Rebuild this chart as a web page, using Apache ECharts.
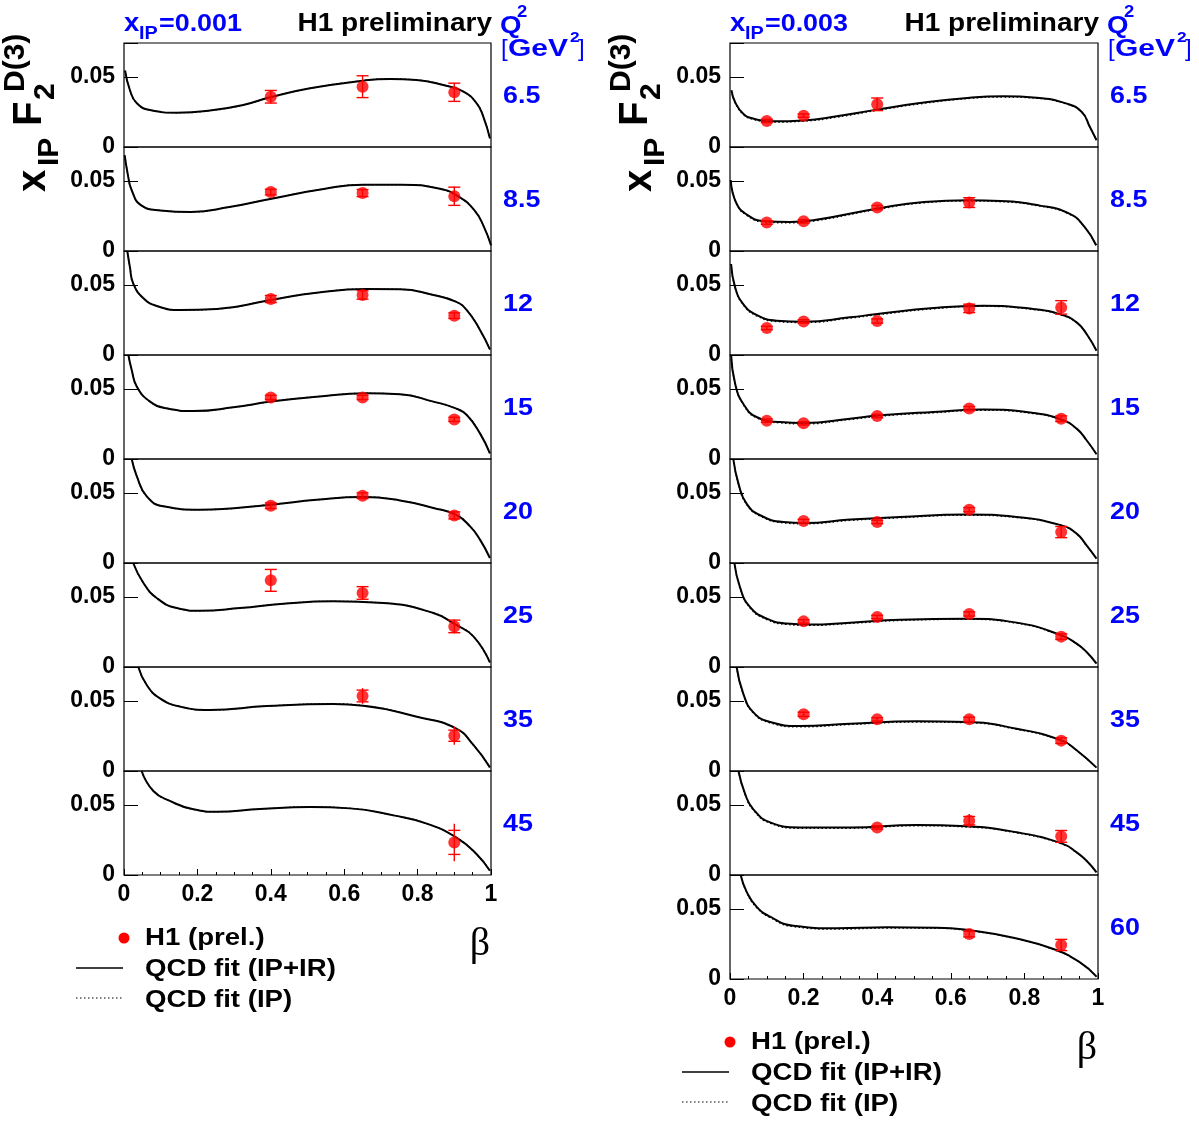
<!DOCTYPE html>
<html><head><meta charset="utf-8">
<script src="https://cdn.jsdelivr.net/npm/echarts@6/dist/echarts.min.js"></script>
<style>html,body{margin:0;padding:0;background:#fff}#c{width:1199px;height:1123px}</style>
</head><body><div id="c"></div>
<script>
// ---------------- data ----------------
const betaLeft = [0.4, 0.65, 0.9];
const betaRight = [0.1, 0.2, 0.4, 0.65, 0.9];
const q2Left = ['6.5', '8.5', '12', '15', '20', '25', '35', '45'];
const q2Right = ['6.5', '8.5', '12', '15', '20', '25', '35', '45', '60'];
const xIPLabels = ['0.001', '0.003'];
const yTickLabels = [0, 0.05];

const h1Left = [
  [0.0359, 0.0431, 0.0391],
  [0.0421, 0.0414, 0.0391],
  [0.0400, 0.0429, 0.0281],
  [0.0440, 0.0440, 0.0283],
  [0.0409, 0.0481, 0.0340],
  [0.0619, 0.0529, 0.0290],
  [null, 0.0536, 0.0252],
  [null, null, 0.0233]
];
const statLeft = [
  [0.0045, 0.0078, 0.0065],
  [0.0020, 0.0025, 0.0065],
  [0.0025, 0.0030, 0.0020],
  [0.0015, 0.0015, 0.0015],
  [0.0020, 0.0020, 0.0025],
  [0.0078, 0.0045, 0.0045],
  [null, 0.0042, 0.0040],
  [null, null, 0.0086]
];
const totLeft = [
  [0.0048, 0.0080, 0.0068],
  [0.0022, 0.0028, 0.0069],
  [0.0028, 0.0033, 0.0022],
  [0.0018, 0.0018, 0.0018],
  [0.0022, 0.0022, 0.0030],
  [0.0080, 0.0048, 0.0050],
  [null, 0.0056, 0.0065],
  [null, null, 0.0134]
];
const h1Right = [
  [0.0186, 0.0224, 0.0305, null, null],
  [0.0203, 0.0212, 0.0310, 0.0346, null],
  [0.0193, 0.0240, 0.0243, 0.0333, 0.0340],
  [0.0274, 0.0255, 0.0307, 0.0360, 0.0288],
  [null, 0.0300, 0.0293, 0.0381, 0.0221],
  [null, 0.0326, 0.0357, 0.0379, 0.0217],
  [null, 0.0405, 0.0369, 0.0369, 0.0217],
  [null, null, 0.0340, 0.0388, 0.0276],
  [null, null, null, 0.0321, 0.0243]
];
const statRight = [
  [0.0012, 0.0012, 0.0045, null, null],
  [0.0012, 0.0012, 0.0015, 0.0035, null],
  [0.0012, 0.0012, 0.0015, 0.0030, 0.0048],
  [0.0012, 0.0012, 0.0012, 0.0015, 0.0020],
  [null, 0.0012, 0.0012, 0.0015, 0.0040],
  [null, 0.0012, 0.0012, 0.0015, 0.0020],
  [null, 0.0015, 0.0012, 0.0015, 0.0020],
  [null, null, 0.0012, 0.0030, 0.0042],
  [null, null, null, 0.0020, 0.0040]
];
const totRight = [
  [0.0014, 0.0014, 0.0048, null, null],
  [0.0014, 0.0014, 0.0018, 0.0038, null],
  [0.0014, 0.0014, 0.0018, 0.0040, 0.0050],
  [0.0014, 0.0014, 0.0014, 0.0018, 0.0022],
  [null, 0.0014, 0.0014, 0.0018, 0.0042],
  [null, 0.0014, 0.0014, 0.0018, 0.0022],
  [null, 0.0018, 0.0014, 0.0018, 0.0022],
  [null, null, 0.0014, 0.0048, 0.0045],
  [null, null, null, 0.0022, 0.0042]
];

// QCD fit (IP+IR), [beta, value]
const fitLeft = [
  [[0.003,0.0545],[0.016,0.0407],[0.035,0.0312],[0.071,0.0264],[0.144,0.0245],[0.234,0.0260],[0.325,0.0300],[0.398,0.0355],[0.507,0.0419],[0.652,0.0474],[0.725,0.0486],[0.797,0.0479],[0.870,0.0443],[0.925,0.0395],[0.961,0.0312],[0.979,0.0217],[0.997,0.0062]],
  [[0.002,0.0684],[0.010,0.0553],[0.021,0.0434],[0.047,0.0326],[0.099,0.0290],[0.183,0.0279],[0.287,0.0314],[0.402,0.0374],[0.548,0.0445],[0.652,0.0474],[0.757,0.0474],[0.861,0.0445],[0.913,0.0386],[0.955,0.0290],[0.981,0.0171],[1.000,0.0041]],
  [[0.009,0.0743],[0.016,0.0630],[0.025,0.0512],[0.053,0.0405],[0.089,0.0350],[0.153,0.0321],[0.253,0.0329],[0.400,0.0393],[0.525,0.0445],[0.661,0.0471],[0.752,0.0469],[0.843,0.0429],[0.904,0.0381],[0.934,0.0321],[0.970,0.0179],[0.997,0.0040]],
  [[0.012,0.0743],[0.021,0.0636],[0.035,0.0517],[0.071,0.0410],[0.116,0.0362],[0.189,0.0343],[0.298,0.0369],[0.400,0.0410],[0.525,0.0445],[0.661,0.0469],[0.752,0.0462],[0.843,0.0410],[0.904,0.0362],[0.934,0.0314],[0.970,0.0183],[0.997,0.0040]],
  [[0.021,0.0743],[0.035,0.0619],[0.062,0.0476],[0.107,0.0405],[0.207,0.0381],[0.400,0.0417],[0.525,0.0452],[0.652,0.0471],[0.752,0.0447],[0.843,0.0393],[0.904,0.0345],[0.943,0.0262],[0.970,0.0167],[0.997,0.0036]],
  [[0.025,0.0743],[0.053,0.0600],[0.089,0.0493],[0.144,0.0421],[0.207,0.0402],[0.316,0.0421],[0.434,0.0452],[0.570,0.0469],[0.707,0.0457],[0.843,0.0386],[0.904,0.0302],[0.952,0.0219],[0.997,0.0033]],
  [[0.039,0.0743],[0.062,0.0614],[0.098,0.0519],[0.153,0.0460],[0.234,0.0436],[0.389,0.0464],[0.570,0.0479],[0.652,0.0467],[0.798,0.0388],[0.904,0.0305],[0.952,0.0186],[0.997,0.0026]],
  [[0.048,0.0743],[0.080,0.0600],[0.125,0.0529],[0.189,0.0469],[0.253,0.0452],[0.371,0.0471],[0.507,0.0486],[0.616,0.0476],[0.734,0.0426],[0.825,0.0367],[0.906,0.0267],[0.961,0.0148],[0.997,0.0030]]
];
// QCD fit (IP) coincides with the IP+IR curve in the x_IP=0.001 column
const fitIPLeft = fitLeft;

const fitRight = [
  [[0.004,0.0405],[0.014,0.0320],[0.036,0.0238],[0.063,0.0203],[0.118,0.0184],[0.199,0.0190],[0.290,0.0219],[0.399,0.0267],[0.516,0.0314],[0.652,0.0352],[0.743,0.0362],[0.833,0.0352],[0.915,0.0310],[0.956,0.0250],[0.978,0.0143],[0.996,0.0048]],
  [[0.002,0.0505],[0.018,0.0338],[0.049,0.0255],[0.090,0.0214],[0.163,0.0207],[0.226,0.0219],[0.398,0.0302],[0.527,0.0350],[0.648,0.0362],[0.735,0.0357],[0.839,0.0326],[0.922,0.0267],[0.964,0.0171],[0.995,0.0041]],
  [[0.003,0.0650],[0.014,0.0483],[0.036,0.0364],[0.072,0.0286],[0.127,0.0245],[0.202,0.0238],[0.326,0.0269],[0.400,0.0293],[0.553,0.0336],[0.688,0.0352],[0.824,0.0329],[0.901,0.0288],[0.942,0.0233],[0.969,0.0150],[0.996,0.0030]],
  [[0.003,0.0743],[0.014,0.0538],[0.036,0.0395],[0.072,0.0300],[0.136,0.0264],[0.202,0.0257],[0.326,0.0288],[0.400,0.0310],[0.553,0.0336],[0.688,0.0353],[0.824,0.0329],[0.901,0.0281],[0.942,0.0217],[0.969,0.0134],[0.996,0.0034]],
  [[0.009,0.0743],[0.023,0.0567],[0.045,0.0424],[0.082,0.0341],[0.145,0.0293],[0.202,0.0286],[0.326,0.0310],[0.462,0.0329],[0.643,0.0346],[0.779,0.0329],[0.901,0.0269],[0.942,0.0210],[0.969,0.0126],[0.996,0.0031]],
  [[0.012,0.0743],[0.027,0.0571],[0.054,0.0429],[0.100,0.0345],[0.154,0.0310],[0.217,0.0303],[0.326,0.0317],[0.462,0.0338],[0.643,0.0345],[0.779,0.0317],[0.901,0.0226],[0.942,0.0167],[0.969,0.0107],[0.996,0.0024]],
  [[0.018,0.0743],[0.036,0.0553],[0.063,0.0421],[0.109,0.0350],[0.190,0.0321],[0.326,0.0338],[0.507,0.0355],[0.643,0.0350],[0.779,0.0302],[0.901,0.0219],[0.942,0.0148],[0.996,0.0024]],
  [[0.023,0.0743],[0.041,0.0579],[0.063,0.0471],[0.109,0.0376],[0.190,0.0340],[0.326,0.0340],[0.507,0.0357],[0.643,0.0348],[0.779,0.0305],[0.901,0.0226],[0.942,0.0162],[0.969,0.0102],[0.996,0.0019]],
  [[0.029,0.0743],[0.045,0.0624],[0.072,0.0517],[0.109,0.0445],[0.172,0.0380],[0.290,0.0362],[0.426,0.0369],[0.562,0.0367],[0.652,0.0348],[0.770,0.0295],[0.879,0.0214],[0.951,0.0119],[0.996,0.0017]]
];
const fitIPRight = [
  [[0.004,0.0405],[0.014,0.0316],[0.036,0.0232],[0.063,0.0197],[0.118,0.0178],[0.199,0.0184],[0.290,0.0213],[0.399,0.0261],[0.516,0.0308],[0.652,0.0347],[0.743,0.0357],[0.833,0.0348],[0.915,0.0307],[0.956,0.0248],[0.978,0.0142],[0.996,0.0048]],
  [[0.002,0.0505],[0.018,0.0334],[0.049,0.0249],[0.090,0.0208],[0.163,0.0201],[0.226,0.0213],[0.398,0.0296],[0.527,0.0344],[0.648,0.0357],[0.735,0.0352],[0.839,0.0322],[0.922,0.0264],[0.964,0.0169],[0.995,0.0041]],
  [[0.003,0.0650],[0.014,0.0479],[0.036,0.0358],[0.072,0.0280],[0.127,0.0239],[0.202,0.0232],[0.326,0.0263],[0.400,0.0287],[0.553,0.0330],[0.688,0.0347],[0.824,0.0325],[0.901,0.0285],[0.942,0.0231],[0.969,0.0149],[0.996,0.0030]],
  [[0.003,0.0743],[0.014,0.0534],[0.036,0.0389],[0.072,0.0294],[0.136,0.0258],[0.202,0.0251],[0.326,0.0282],[0.400,0.0304],[0.553,0.0330],[0.688,0.0348],[0.824,0.0325],[0.901,0.0278],[0.942,0.0215],[0.969,0.0133],[0.996,0.0034]],
  [[0.009,0.0743],[0.023,0.0563],[0.045,0.0418],[0.082,0.0335],[0.145,0.0287],[0.202,0.0280],[0.326,0.0304],[0.462,0.0323],[0.643,0.0341],[0.779,0.0325],[0.901,0.0266],[0.942,0.0208],[0.969,0.0125],[0.996,0.0031]],
  [[0.012,0.0743],[0.027,0.0567],[0.054,0.0423],[0.100,0.0339],[0.154,0.0304],[0.217,0.0297],[0.326,0.0311],[0.462,0.0332],[0.643,0.0340],[0.779,0.0313],[0.901,0.0223],[0.942,0.0165],[0.969,0.0106],[0.996,0.0024]],
  [[0.018,0.0743],[0.036,0.0549],[0.063,0.0415],[0.109,0.0344],[0.190,0.0315],[0.326,0.0332],[0.507,0.0349],[0.643,0.0345],[0.779,0.0298],[0.901,0.0216],[0.942,0.0146],[0.996,0.0024]],
  [[0.023,0.0743],[0.041,0.0575],[0.063,0.0465],[0.109,0.0370],[0.190,0.0334],[0.326,0.0334],[0.507,0.0351],[0.643,0.0343],[0.779,0.0301],[0.901,0.0223],[0.942,0.0160],[0.969,0.0101],[0.996,0.0019]],
  [[0.029,0.0743],[0.045,0.0620],[0.072,0.0511],[0.109,0.0439],[0.172,0.0374],[0.290,0.0356],[0.426,0.0363],[0.562,0.0362],[0.652,0.0344],[0.770,0.0292],[0.879,0.0211],[0.951,0.0118],[0.996,0.0017]]
];

// ---------------- layout ----------------
const TOP = 43, PH = 104, YMAX = 0.0743;
const FONT = '"Liberation Sans", Arial, Helvetica, sans-serif';
const BLUE = '#0000ff', RED = '#ff0000';
const columns = [
  {x: 124, w: 367, q2: q2Left, beta: betaLeft, h1: h1Left, stat: statLeft, tot: totLeft, fit: fitLeft, fitIP: fitIPLeft},
  {x: 730, w: 368, q2: q2Right, beta: betaRight, h1: h1Right, stat: statRight, tot: totRight, fit: fitRight, fitIP: fitIPRight}
];

const grid = [], xAxis = [], yAxis = [], series = [], graphic = [];
let gi = 0;

function errRender(params, api) {
  const x = api.value(0), y = api.value(1), s = api.value(2), t = api.value(3);
  const a = api.coord([x, y + t]), b = api.coord([x, y - t]);
  const c = api.coord([x, y + s]), d = api.coord([x, y - s]);
  const st = {stroke: RED, lineWidth: 1.4};
  return {type: 'group', children: [
    {type: 'line', shape: {x1: a[0], y1: a[1], x2: b[0], y2: b[1]}, style: st},
    {type: 'line', shape: {x1: c[0] - 6, y1: c[1], x2: c[0] + 6, y2: c[1]}, style: st},
    {type: 'line', shape: {x1: d[0] - 6, y1: d[1], x2: d[0] + 6, y2: d[1]}, style: st}
  ]};
}

columns.forEach((col, ci) => {
  const n = col.q2.length;
  col.q2.forEach((q, i) => {
    const last = i === n - 1;
    const top = TOP + i * PH;
    grid.push({left: col.x, top: top, width: col.w, height: PH, show: true,
      borderColor: '#000', borderWidth: 1.2, backgroundColor: 'transparent'});
    xAxis.push({type: 'value', gridIndex: gi, min: 0, max: 1, interval: 0.2,
      axisLine: {show: false}, splitLine: {show: false},
      axisTick: {show: last, inside: true, length: 6, lineStyle: {color: '#000', width: 1}},
      minorTick: {show: last, splitNumber: 4, length: 3, lineStyle: {color: '#000', width: 1}},
      axisLabel: {show: last, color: '#000', fontWeight: 'bold', fontSize: 23, fontFamily: FONT, margin: 8}
    });
    yAxis.push({type: 'value', gridIndex: gi, min: 0, max: YMAX, interval: 0.05,
      axisLine: {show: false}, splitLine: {show: false},
      axisTick: {show: true, inside: true, length: 14, lineStyle: {color: '#000', width: 1}},
      axisLabel: {color: '#000', fontWeight: 'bold', fontSize: 23, fontFamily: FONT, margin: 9,
        formatter: v => yTickLabels.some(t => Math.abs(t - v) < 1e-9) ? String(v) : ''}
    });
    const common = {xAxisIndex: gi, yAxisIndex: gi, silent: true, animation: false};
    series.push(Object.assign({type: 'line', data: col.fitIP[i], showSymbol: false, smooth: 0.5,
      clip: true, z: 2,
      lineStyle: {color: '#000', width: 1.3, type: [1.5, 2.5]}}, common));
    series.push(Object.assign({type: 'line', data: col.fit[i], showSymbol: false, smooth: 0.5,
      clip: true, z: 3,
      lineStyle: {color: '#000', width: 2}}, common));
    const pts = [], errs = [];
    col.beta.forEach((b, k) => {
      const v = col.h1[i][k];
      if (v == null) return;
      pts.push([b, v]);
      errs.push([b, v, col.stat[i][k], col.tot[i][k]]);
    });
    series.push(Object.assign({type: 'custom', renderItem: errRender, data: errs, z: 4,
      encode: {x: 0, y: 1}}, common));
    series.push(Object.assign({type: 'scatter', data: pts, symbol: 'circle', symbolSize: 12, z: 5,
      itemStyle: {color: RED}}, common));
    graphic.push({type: 'text', x: col.x + col.w + 12, y: top + PH / 2 + 1, scaleX: 1.12,
      style: {text: q, fill: BLUE, fontSize: 24, fontWeight: 'bold', fontFamily: FONT,
        align: 'left', verticalAlign: 'middle'}});
    gi++;
  });
});

function T(text, x, y, o) {
  o = o || {};
  return {type: 'text', x: x, y: y, scaleX: o.sx || 1.15, rotation: o.rot || 0,
    style: {text: text, fill: o.fill || '#000', fontSize: o.size || 24,
      fontWeight: o.weight || 'bold', fontFamily: o.family || FONT,
      align: o.align || 'left', verticalAlign: o.va || 'middle'}};
}

columns.forEach((col, ci) => {
  const dx = col.x - 124;
  const right = col.x + col.w;
  // header
  graphic.push(T('x', col.x, 24, {fill: BLUE, size: 25, sx: 1.1}));
  graphic.push(T('IP', col.x + 15, 34, {fill: BLUE, size: 18, sx: 1.1}));
  graphic.push(T('=' + xIPLabels[ci], col.x + 35, 24, {fill: BLUE, size: 24, sx: 1.12}));
  graphic.push(T('H1 preliminary', right + 1, 24, {size: 25, align: 'right', sx: 1.12}));
  graphic.push(T('Q', right + 9, 26, {fill: BLUE, size: 24}));
  graphic.push(T('2', right + 26, 13, {fill: BLUE, size: 16}));
  graphic.push(T('[', right + 10, 49, {fill: BLUE, size: 24, weight: 'normal', sx: 1}));
  graphic.push(T('GeV', right + 17, 49, {fill: BLUE, size: 24, sx: 1.25}));
  graphic.push(T('2', right + 79, 38, {fill: BLUE, size: 15}));
  graphic.push(T(']', right + 87, 49, {fill: BLUE, size: 24, weight: 'normal', sx: 1}));
  // y title (rotated)
  graphic.push({type: 'group', x: 46 + dx, y: 192, rotation: Math.PI / 2, children: [
    {type: 'text', x: 0, y: -12, style: {text: 'x', fill: '#000', fontSize: 40, fontWeight: 'bold', fontFamily: FONT, align: 'left', verticalAlign: 'middle'}},
    {type: 'text', x: 26, y: 4, style: {text: 'IP', fill: '#000', fontSize: 30, fontWeight: 'bold', fontFamily: FONT, align: 'left', verticalAlign: 'middle'}},
    {type: 'text', x: 66, y: -16, style: {text: 'F', fill: '#000', fontSize: 40, fontWeight: 'bold', fontFamily: FONT, align: 'left', verticalAlign: 'middle'}},
    {type: 'text', x: 92, y: 0, style: {text: '2', fill: '#000', fontSize: 30, fontWeight: 'bold', fontFamily: FONT, align: 'left', verticalAlign: 'middle'}},
    {type: 'text', x: 100, y: -30, style: {text: 'D(3)', fill: '#000', fontSize: 30, fontWeight: 'bold', fontFamily: FONT, align: 'left', verticalAlign: 'middle'}}
  ]});
  // legend
  const ly = TOP + col.q2.length * PH + 63;
  graphic.push({type: 'circle', shape: {cx: col.x, cy: ly, r: 5.5}, style: {fill: RED}});
  graphic.push(T('H1 (prel.)', col.x + 21, ly, {size: 24}));
  graphic.push({type: 'line', shape: {x1: col.x - 48, y1: ly + 30, x2: col.x - 1, y2: ly + 30}, style: {stroke: '#000', lineWidth: 1.5}});
  graphic.push(T('QCD fit (IP+IR)', col.x + 21, ly + 31, {size: 24}));
  graphic.push({type: 'line', shape: {x1: col.x - 48, y1: ly + 60, x2: col.x - 1, y2: ly + 60}, style: {stroke: '#000', lineWidth: 1.2, lineDash: [1.5, 2.5]}});
  graphic.push(T('QCD fit (IP)', col.x + 21, ly + 62, {size: 24}));
  graphic.push(T('\u03b2', right - 11, ly + 6, {size: 40, weight: 'normal', family: '"Liberation Serif", "Times New Roman", serif', align: 'center', sx: 1}));
});

const chart = echarts.init(document.getElementById('c'), null, {renderer: 'canvas'});
chart.setOption({backgroundColor: '#fff', animation: false, grid, xAxis, yAxis, series, graphic});
</script></body></html>
